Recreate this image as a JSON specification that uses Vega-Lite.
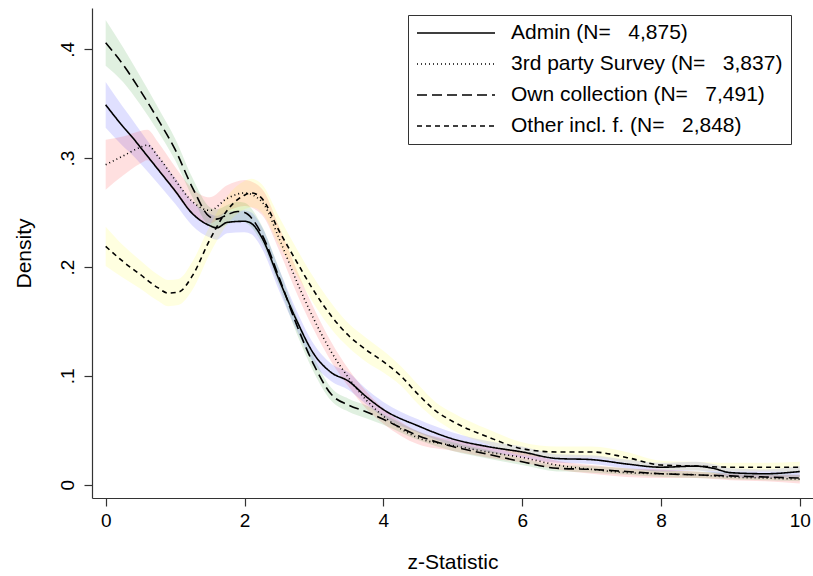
{
  "$schema": "https://vega.github.io/schema/vega-lite/v6.json",
  "width": 721,
  "height": 490,
  "autosize": "none",
  "padding": {"left": 92, "top": 8, "right": 0, "bottom": 78},
  "background": "white",
  "config": {
    "font": "Liberation Sans",
    "view": {"stroke": null},
    "axis": {"grid": false, "domainColor": "#333333", "tickColor": "#333333", "labelColor": "black", "titleColor": "black", "titleFontWeight": "normal", "tickSize": 8, "domainWidth": 1.2, "tickWidth": 1.2, "labelFont": "Liberation Sans", "titleFont": "Liberation Sans"}
  },
  "data": {
    "values": [
      {"s": "Admin (N=\u00a0\u00a0\u00a04,875)", "x": 0, "y": 0.349, "lo": 0.328, "hi": 0.370},
      {"s": "Admin (N=\u00a0\u00a0\u00a04,875)", "x": 0.25, "y": 0.329, "lo": 0.311, "hi": 0.347},
      {"s": "Admin (N=\u00a0\u00a0\u00a04,875)", "x": 0.4, "y": 0.318, "lo": 0.302, "hi": 0.334},
      {"s": "Admin (N=\u00a0\u00a0\u00a04,875)", "x": 0.5, "y": 0.310, "lo": 0.295, "hi": 0.325},
      {"s": "Admin (N=\u00a0\u00a0\u00a04,875)", "x": 0.75, "y": 0.290, "lo": 0.277, "hi": 0.303},
      {"s": "Admin (N=\u00a0\u00a0\u00a04,875)", "x": 1.0, "y": 0.270, "lo": 0.258, "hi": 0.282},
      {"s": "Admin (N=\u00a0\u00a0\u00a04,875)", "x": 1.25, "y": 0.249, "lo": 0.238, "hi": 0.260},
      {"s": "Admin (N=\u00a0\u00a0\u00a04,875)", "x": 1.5, "y": 0.238, "lo": 0.227, "hi": 0.249},
      {"s": "Admin (N=\u00a0\u00a0\u00a04,875)", "x": 1.6, "y": 0.236, "lo": 0.225, "hi": 0.247},
      {"s": "Admin (N=\u00a0\u00a0\u00a04,875)", "x": 1.75, "y": 0.241, "lo": 0.231, "hi": 0.251},
      {"s": "Admin (N=\u00a0\u00a0\u00a04,875)", "x": 2.0, "y": 0.242, "lo": 0.232, "hi": 0.252},
      {"s": "Admin (N=\u00a0\u00a0\u00a04,875)", "x": 2.1, "y": 0.240, "lo": 0.230, "hi": 0.250},
      {"s": "Admin (N=\u00a0\u00a0\u00a04,875)", "x": 2.25, "y": 0.227, "lo": 0.217, "hi": 0.237},
      {"s": "Admin (N=\u00a0\u00a0\u00a04,875)", "x": 2.5, "y": 0.188, "lo": 0.178, "hi": 0.198},
      {"s": "Admin (N=\u00a0\u00a0\u00a04,875)", "x": 2.75, "y": 0.151, "lo": 0.142, "hi": 0.160},
      {"s": "Admin (N=\u00a0\u00a0\u00a04,875)", "x": 3.0, "y": 0.120, "lo": 0.111, "hi": 0.129},
      {"s": "Admin (N=\u00a0\u00a0\u00a04,875)", "x": 3.25, "y": 0.103, "lo": 0.095, "hi": 0.111},
      {"s": "Admin (N=\u00a0\u00a0\u00a04,875)", "x": 3.5, "y": 0.095, "lo": 0.087, "hi": 0.103},
      {"s": "Admin (N=\u00a0\u00a0\u00a04,875)", "x": 3.75, "y": 0.081, "lo": 0.074, "hi": 0.088},
      {"s": "Admin (N=\u00a0\u00a0\u00a04,875)", "x": 4.0, "y": 0.069, "lo": 0.062, "hi": 0.076},
      {"s": "Admin (N=\u00a0\u00a0\u00a04,875)", "x": 4.5, "y": 0.054, "lo": 0.048, "hi": 0.060},
      {"s": "Admin (N=\u00a0\u00a0\u00a04,875)", "x": 5.0, "y": 0.042, "lo": 0.036, "hi": 0.048},
      {"s": "Admin (N=\u00a0\u00a0\u00a04,875)", "x": 5.5, "y": 0.035, "lo": 0.030, "hi": 0.040},
      {"s": "Admin (N=\u00a0\u00a0\u00a04,875)", "x": 6.0, "y": 0.030, "lo": 0.025, "hi": 0.035},
      {"s": "Admin (N=\u00a0\u00a0\u00a04,875)", "x": 6.5, "y": 0.024, "lo": 0.020, "hi": 0.028},
      {"s": "Admin (N=\u00a0\u00a0\u00a04,875)", "x": 7.0, "y": 0.023, "lo": 0.019, "hi": 0.027},
      {"s": "Admin (N=\u00a0\u00a0\u00a04,875)", "x": 7.5, "y": 0.019, "lo": 0.015, "hi": 0.023},
      {"s": "Admin (N=\u00a0\u00a0\u00a04,875)", "x": 8.0, "y": 0.016, "lo": 0.012, "hi": 0.020},
      {"s": "Admin (N=\u00a0\u00a0\u00a04,875)", "x": 8.5, "y": 0.017, "lo": 0.013, "hi": 0.021},
      {"s": "Admin (N=\u00a0\u00a0\u00a04,875)", "x": 8.75, "y": 0.015, "lo": 0.011, "hi": 0.019},
      {"s": "Admin (N=\u00a0\u00a0\u00a04,875)", "x": 9.0, "y": 0.011, "lo": 0.007, "hi": 0.015},
      {"s": "Admin (N=\u00a0\u00a0\u00a04,875)", "x": 9.5, "y": 0.010, "lo": 0.006, "hi": 0.014},
      {"s": "Admin (N=\u00a0\u00a0\u00a04,875)", "x": 10, "y": 0.012, "lo": 0.007, "hi": 0.017},

      {"s": "3rd party Survey (N=\u00a0\u00a0\u00a03,837)", "x": 0, "y": 0.294, "lo": 0.271, "hi": 0.317},
      {"s": "3rd party Survey (N=\u00a0\u00a0\u00a03,837)", "x": 0.25, "y": 0.302, "lo": 0.284, "hi": 0.320},
      {"s": "3rd party Survey (N=\u00a0\u00a0\u00a03,837)", "x": 0.5, "y": 0.310, "lo": 0.295, "hi": 0.325},
      {"s": "3rd party Survey (N=\u00a0\u00a0\u00a03,837)", "x": 0.6, "y": 0.312, "lo": 0.298, "hi": 0.326},
      {"s": "3rd party Survey (N=\u00a0\u00a0\u00a03,837)", "x": 0.75, "y": 0.302, "lo": 0.289, "hi": 0.315},
      {"s": "3rd party Survey (N=\u00a0\u00a0\u00a03,837)", "x": 1.0, "y": 0.280, "lo": 0.268, "hi": 0.292},
      {"s": "3rd party Survey (N=\u00a0\u00a0\u00a03,837)", "x": 1.25, "y": 0.260, "lo": 0.248, "hi": 0.272},
      {"s": "3rd party Survey (N=\u00a0\u00a0\u00a03,837)", "x": 1.5, "y": 0.252, "lo": 0.240, "hi": 0.264},
      {"s": "3rd party Survey (N=\u00a0\u00a0\u00a03,837)", "x": 1.75, "y": 0.263, "lo": 0.251, "hi": 0.275},
      {"s": "3rd party Survey (N=\u00a0\u00a0\u00a03,837)", "x": 2.0, "y": 0.268, "lo": 0.256, "hi": 0.280},
      {"s": "3rd party Survey (N=\u00a0\u00a0\u00a03,837)", "x": 2.25, "y": 0.260, "lo": 0.248, "hi": 0.272},
      {"s": "3rd party Survey (N=\u00a0\u00a0\u00a03,837)", "x": 2.5, "y": 0.226, "lo": 0.215, "hi": 0.237},
      {"s": "3rd party Survey (N=\u00a0\u00a0\u00a03,837)", "x": 2.75, "y": 0.187, "lo": 0.176, "hi": 0.198},
      {"s": "3rd party Survey (N=\u00a0\u00a0\u00a03,837)", "x": 3.0, "y": 0.152, "lo": 0.142, "hi": 0.162},
      {"s": "3rd party Survey (N=\u00a0\u00a0\u00a03,837)", "x": 3.25, "y": 0.122, "lo": 0.113, "hi": 0.131},
      {"s": "3rd party Survey (N=\u00a0\u00a0\u00a03,837)", "x": 3.5, "y": 0.098, "lo": 0.090, "hi": 0.106},
      {"s": "3rd party Survey (N=\u00a0\u00a0\u00a03,837)", "x": 3.75, "y": 0.078, "lo": 0.070, "hi": 0.086},
      {"s": "3rd party Survey (N=\u00a0\u00a0\u00a03,837)", "x": 4.0, "y": 0.063, "lo": 0.056, "hi": 0.070},
      {"s": "3rd party Survey (N=\u00a0\u00a0\u00a03,837)", "x": 4.5, "y": 0.043, "lo": 0.037, "hi": 0.049},
      {"s": "3rd party Survey (N=\u00a0\u00a0\u00a03,837)", "x": 5.0, "y": 0.036, "lo": 0.031, "hi": 0.041},
      {"s": "3rd party Survey (N=\u00a0\u00a0\u00a03,837)", "x": 5.5, "y": 0.030, "lo": 0.025, "hi": 0.035},
      {"s": "3rd party Survey (N=\u00a0\u00a0\u00a03,837)", "x": 6.0, "y": 0.025, "lo": 0.020, "hi": 0.030},
      {"s": "3rd party Survey (N=\u00a0\u00a0\u00a03,837)", "x": 6.5, "y": 0.018, "lo": 0.014, "hi": 0.022},
      {"s": "3rd party Survey (N=\u00a0\u00a0\u00a03,837)", "x": 7.0, "y": 0.014, "lo": 0.010, "hi": 0.018},
      {"s": "3rd party Survey (N=\u00a0\u00a0\u00a03,837)", "x": 7.5, "y": 0.011, "lo": 0.007, "hi": 0.015},
      {"s": "3rd party Survey (N=\u00a0\u00a0\u00a03,837)", "x": 8.0, "y": 0.010, "lo": 0.006, "hi": 0.014},
      {"s": "3rd party Survey (N=\u00a0\u00a0\u00a03,837)", "x": 8.5, "y": 0.009, "lo": 0.006, "hi": 0.012},
      {"s": "3rd party Survey (N=\u00a0\u00a0\u00a03,837)", "x": 9.0, "y": 0.007, "lo": 0.004, "hi": 0.010},
      {"s": "3rd party Survey (N=\u00a0\u00a0\u00a03,837)", "x": 9.5, "y": 0.006, "lo": 0.003, "hi": 0.009},
      {"s": "3rd party Survey (N=\u00a0\u00a0\u00a03,837)", "x": 10, "y": 0.005, "lo": 0.001, "hi": 0.009},

      {"s": "Own collection (N=\u00a0\u00a0\u00a07,491)", "x": 0, "y": 0.406, "lo": 0.385, "hi": 0.427},
      {"s": "Own collection (N=\u00a0\u00a0\u00a07,491)", "x": 0.25, "y": 0.386, "lo": 0.370, "hi": 0.402},
      {"s": "Own collection (N=\u00a0\u00a0\u00a07,491)", "x": 0.5, "y": 0.362, "lo": 0.349, "hi": 0.375},
      {"s": "Own collection (N=\u00a0\u00a0\u00a07,491)", "x": 0.75, "y": 0.336, "lo": 0.325, "hi": 0.347},
      {"s": "Own collection (N=\u00a0\u00a0\u00a07,491)", "x": 1.0, "y": 0.308, "lo": 0.298, "hi": 0.318},
      {"s": "Own collection (N=\u00a0\u00a0\u00a07,491)", "x": 1.25, "y": 0.273, "lo": 0.264, "hi": 0.282},
      {"s": "Own collection (N=\u00a0\u00a0\u00a07,491)", "x": 1.5, "y": 0.246, "lo": 0.237, "hi": 0.255},
      {"s": "Own collection (N=\u00a0\u00a0\u00a07,491)", "x": 1.6, "y": 0.244, "lo": 0.235, "hi": 0.253},
      {"s": "Own collection (N=\u00a0\u00a0\u00a07,491)", "x": 1.75, "y": 0.248, "lo": 0.239, "hi": 0.257},
      {"s": "Own collection (N=\u00a0\u00a0\u00a07,491)", "x": 1.9, "y": 0.251, "lo": 0.242, "hi": 0.260},
      {"s": "Own collection (N=\u00a0\u00a0\u00a07,491)", "x": 2.0, "y": 0.250, "lo": 0.241, "hi": 0.259},
      {"s": "Own collection (N=\u00a0\u00a0\u00a07,491)", "x": 2.25, "y": 0.230, "lo": 0.222, "hi": 0.238},
      {"s": "Own collection (N=\u00a0\u00a0\u00a07,491)", "x": 2.5, "y": 0.190, "lo": 0.182, "hi": 0.198},
      {"s": "Own collection (N=\u00a0\u00a0\u00a07,491)", "x": 2.75, "y": 0.147, "lo": 0.139, "hi": 0.155},
      {"s": "Own collection (N=\u00a0\u00a0\u00a07,491)", "x": 3.0, "y": 0.110, "lo": 0.103, "hi": 0.117},
      {"s": "Own collection (N=\u00a0\u00a0\u00a07,491)", "x": 3.25, "y": 0.083, "lo": 0.077, "hi": 0.089},
      {"s": "Own collection (N=\u00a0\u00a0\u00a07,491)", "x": 3.5, "y": 0.073, "lo": 0.067, "hi": 0.079},
      {"s": "Own collection (N=\u00a0\u00a0\u00a07,491)", "x": 3.75, "y": 0.067, "lo": 0.061, "hi": 0.073},
      {"s": "Own collection (N=\u00a0\u00a0\u00a07,491)", "x": 4.0, "y": 0.060, "lo": 0.055, "hi": 0.065},
      {"s": "Own collection (N=\u00a0\u00a0\u00a07,491)", "x": 4.5, "y": 0.045, "lo": 0.041, "hi": 0.049},
      {"s": "Own collection (N=\u00a0\u00a0\u00a07,491)", "x": 5.0, "y": 0.035, "lo": 0.031, "hi": 0.039},
      {"s": "Own collection (N=\u00a0\u00a0\u00a07,491)", "x": 5.5, "y": 0.028, "lo": 0.024, "hi": 0.032},
      {"s": "Own collection (N=\u00a0\u00a0\u00a07,491)", "x": 6.0, "y": 0.021, "lo": 0.018, "hi": 0.024},
      {"s": "Own collection (N=\u00a0\u00a0\u00a07,491)", "x": 6.5, "y": 0.015, "lo": 0.012, "hi": 0.018},
      {"s": "Own collection (N=\u00a0\u00a0\u00a07,491)", "x": 7.0, "y": 0.014, "lo": 0.011, "hi": 0.017},
      {"s": "Own collection (N=\u00a0\u00a0\u00a07,491)", "x": 7.5, "y": 0.012, "lo": 0.009, "hi": 0.015},
      {"s": "Own collection (N=\u00a0\u00a0\u00a07,491)", "x": 8.0, "y": 0.010, "lo": 0.007, "hi": 0.013},
      {"s": "Own collection (N=\u00a0\u00a0\u00a07,491)", "x": 8.5, "y": 0.009, "lo": 0.006, "hi": 0.012},
      {"s": "Own collection (N=\u00a0\u00a0\u00a07,491)", "x": 9.0, "y": 0.008, "lo": 0.005, "hi": 0.011},
      {"s": "Own collection (N=\u00a0\u00a0\u00a07,491)", "x": 9.5, "y": 0.007, "lo": 0.004, "hi": 0.010},
      {"s": "Own collection (N=\u00a0\u00a0\u00a07,491)", "x": 10, "y": 0.006, "lo": 0.003, "hi": 0.009},

      {"s": "Other incl. f. (N=\u00a0\u00a0\u00a02,848)", "x": 0, "y": 0.219, "lo": 0.201, "hi": 0.237},
      {"s": "Other incl. f. (N=\u00a0\u00a0\u00a02,848)", "x": 0.25, "y": 0.205, "lo": 0.190, "hi": 0.220},
      {"s": "Other incl. f. (N=\u00a0\u00a0\u00a02,848)", "x": 0.5, "y": 0.193, "lo": 0.180, "hi": 0.206},
      {"s": "Other incl. f. (N=\u00a0\u00a0\u00a02,848)", "x": 0.75, "y": 0.181, "lo": 0.169, "hi": 0.193},
      {"s": "Other incl. f. (N=\u00a0\u00a0\u00a02,848)", "x": 0.9, "y": 0.176, "lo": 0.164, "hi": 0.188},
      {"s": "Other incl. f. (N=\u00a0\u00a0\u00a02,848)", "x": 1.05, "y": 0.177, "lo": 0.165, "hi": 0.189},
      {"s": "Other incl. f. (N=\u00a0\u00a0\u00a02,848)", "x": 1.25, "y": 0.192, "lo": 0.179, "hi": 0.205},
      {"s": "Other incl. f. (N=\u00a0\u00a0\u00a02,848)", "x": 1.5, "y": 0.225, "lo": 0.212, "hi": 0.238},
      {"s": "Other incl. f. (N=\u00a0\u00a0\u00a02,848)", "x": 1.75, "y": 0.252, "lo": 0.239, "hi": 0.265},
      {"s": "Other incl. f. (N=\u00a0\u00a0\u00a02,848)", "x": 2.0, "y": 0.266, "lo": 0.253, "hi": 0.279},
      {"s": "Other incl. f. (N=\u00a0\u00a0\u00a02,848)", "x": 2.1, "y": 0.268, "lo": 0.255, "hi": 0.281},
      {"s": "Other incl. f. (N=\u00a0\u00a0\u00a02,848)", "x": 2.25, "y": 0.263, "lo": 0.250, "hi": 0.276},
      {"s": "Other incl. f. (N=\u00a0\u00a0\u00a02,848)", "x": 2.5, "y": 0.233, "lo": 0.220, "hi": 0.246},
      {"s": "Other incl. f. (N=\u00a0\u00a0\u00a02,848)", "x": 2.75, "y": 0.205, "lo": 0.193, "hi": 0.217},
      {"s": "Other incl. f. (N=\u00a0\u00a0\u00a02,848)", "x": 3.0, "y": 0.178, "lo": 0.166, "hi": 0.190},
      {"s": "Other incl. f. (N=\u00a0\u00a0\u00a02,848)", "x": 3.25, "y": 0.155, "lo": 0.143, "hi": 0.167},
      {"s": "Other incl. f. (N=\u00a0\u00a0\u00a02,848)", "x": 3.5, "y": 0.137, "lo": 0.126, "hi": 0.148},
      {"s": "Other incl. f. (N=\u00a0\u00a0\u00a02,848)", "x": 3.75, "y": 0.124, "lo": 0.113, "hi": 0.135},
      {"s": "Other incl. f. (N=\u00a0\u00a0\u00a02,848)", "x": 4.0, "y": 0.113, "lo": 0.103, "hi": 0.123},
      {"s": "Other incl. f. (N=\u00a0\u00a0\u00a02,848)", "x": 4.25, "y": 0.100, "lo": 0.091, "hi": 0.109},
      {"s": "Other incl. f. (N=\u00a0\u00a0\u00a02,848)", "x": 4.5, "y": 0.083, "lo": 0.074, "hi": 0.092},
      {"s": "Other incl. f. (N=\u00a0\u00a0\u00a02,848)", "x": 4.75, "y": 0.068, "lo": 0.060, "hi": 0.076},
      {"s": "Other incl. f. (N=\u00a0\u00a0\u00a02,848)", "x": 5.0, "y": 0.058, "lo": 0.050, "hi": 0.066},
      {"s": "Other incl. f. (N=\u00a0\u00a0\u00a02,848)", "x": 5.5, "y": 0.044, "lo": 0.037, "hi": 0.051},
      {"s": "Other incl. f. (N=\u00a0\u00a0\u00a02,848)", "x": 6.0, "y": 0.033, "lo": 0.027, "hi": 0.039},
      {"s": "Other incl. f. (N=\u00a0\u00a0\u00a02,848)", "x": 6.5, "y": 0.030, "lo": 0.025, "hi": 0.035},
      {"s": "Other incl. f. (N=\u00a0\u00a0\u00a02,848)", "x": 7.0, "y": 0.030, "lo": 0.025, "hi": 0.035},
      {"s": "Other incl. f. (N=\u00a0\u00a0\u00a02,848)", "x": 7.5, "y": 0.025, "lo": 0.020, "hi": 0.030},
      {"s": "Other incl. f. (N=\u00a0\u00a0\u00a02,848)", "x": 8.0, "y": 0.018, "lo": 0.014, "hi": 0.022},
      {"s": "Other incl. f. (N=\u00a0\u00a0\u00a02,848)", "x": 8.5, "y": 0.017, "lo": 0.013, "hi": 0.021},
      {"s": "Other incl. f. (N=\u00a0\u00a0\u00a02,848)", "x": 9.0, "y": 0.016, "lo": 0.012, "hi": 0.020},
      {"s": "Other incl. f. (N=\u00a0\u00a0\u00a02,848)", "x": 9.5, "y": 0.016, "lo": 0.012, "hi": 0.020},
      {"s": "Other incl. f. (N=\u00a0\u00a0\u00a02,848)", "x": 10, "y": 0.016, "lo": 0.011, "hi": 0.021}
    ]
  },
  "encoding": {
    "x": {
      "field": "x", "type": "quantitative",
      "scale": {"domain": [-0.197, 10.19], "nice": false, "zero": false},
      "axis": {"values": [0, 2, 4, 6, 8, 10], "title": "z-Statistic", "titleFontSize": 21, "labelFontSize": 19, "labelPadding": 5, "titlePadding": 21}
    }
  },
  "layer": [
    {
      "mark": {"type": "area", "fillOpacity": 0.12, "interpolate": "monotone"},
      "encoding": {
        "y": {"field": "lo", "type": "quantitative", "scale": {"domain": [-0.0123, 0.438], "nice": false, "zero": false}},
        "y2": {"field": "hi"},
        "fill": {
          "field": "s", "type": "nominal",
          "scale": {
            "domain": ["Admin (N=\u00a0\u00a0\u00a04,875)", "3rd party Survey (N=\u00a0\u00a0\u00a03,837)", "Own collection (N=\u00a0\u00a0\u00a07,491)", "Other incl. f. (N=\u00a0\u00a0\u00a02,848)"],
            "range": ["#0000ff", "#ff0000", "#008000", "#ffff00"]
          },
          "legend": null
        }
      }
    },
    {
      "mark": {"type": "line", "stroke": "black", "strokeWidth": 1.6, "interpolate": "monotone"},
      "encoding": {
        "y": {
          "field": "y", "type": "quantitative",
          "axis": {"values": [0, 0.1, 0.2, 0.3, 0.4], "labelExpr": "datum.value == 0 ? '0' : replace(format(datum.value, '.1f'), '0.', '.')", "labelAngle": -90, "labelFontSize": 19, "labelPadding": 7, "title": "Density", "titleFontSize": 21, "titlePadding": 24}
        },
        "strokeDash": {
          "field": "s", "type": "nominal",
          "scale": {
            "domain": ["Admin (N=\u00a0\u00a0\u00a04,875)", "3rd party Survey (N=\u00a0\u00a0\u00a03,837)", "Own collection (N=\u00a0\u00a0\u00a07,491)", "Other incl. f. (N=\u00a0\u00a0\u00a02,848)"],
            "range": [[1, 0], [1, 3], [10, 5], [5, 4]]
          },
          "legend": {
            "orient": "none", "legendX": 316, "legendY": 7, "title": null,
            "symbolType": "stroke", "symbolSize": 6084, "symbolStrokeColor": "black", "symbolStrokeWidth": 1.5,
            "clipHeight": 20,
            "labelFontSize": 21, "labelColor": "black", "labelOffset": 15, "labelLimit": 500,
            "strokeColor": "#333333", "fillColor": "white", "padding": 8, "rowPadding": 10
          }
        }
      }
    }
  ],
  "resolve": {"legend": {"strokeDash": "independent"}}
}
